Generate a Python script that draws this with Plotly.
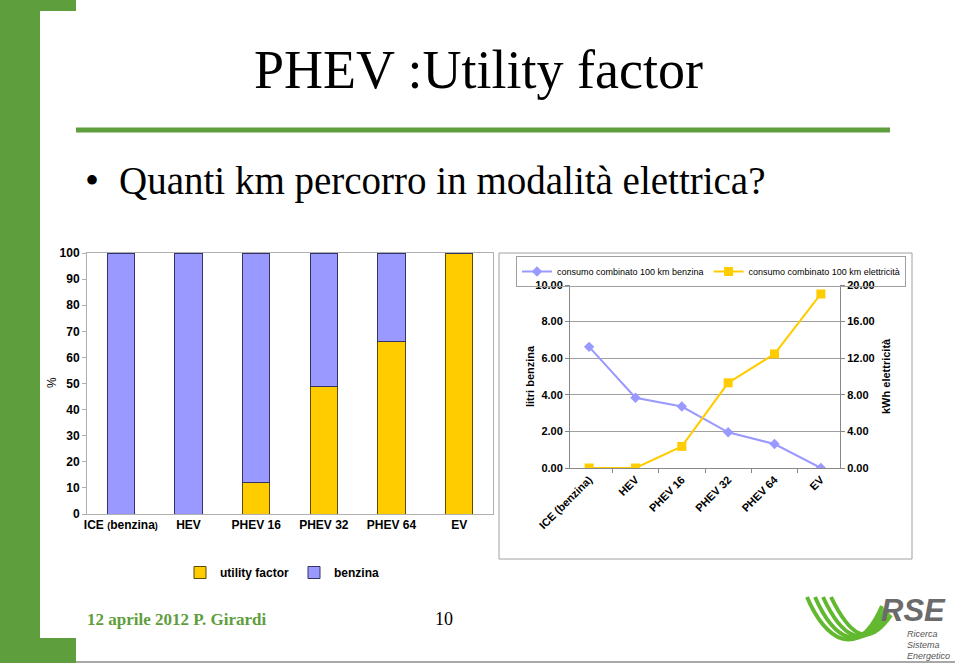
import plotly.graph_objects as go

# ---------------- data ----------------
categories = ["ICE (benzina)", "HEV", "PHEV 16", "PHEV 32", "PHEV 64", "EV"]
bar_ticktext = ["ICE <span style='font-size:9px'>(</span>benzina<span style='font-size:9px'>)</span>",
                "HEV", "PHEV 16", "PHEV 32", "PHEV 64", "EV"]
utility_factor = [0, 0, 12, 49, 66, 100]
benzina_pct = [100, 100, 88, 51, 34, 0]
litri_benzina = [6.62, 3.84, 3.36, 1.95, 1.31, 0.00]
kwh_elettricita = [0.00, 0.00, 2.36, 9.31, 12.47, 19.02]

W, H = 960, 666
def px(x): return x / W
def py(y): return 1 - y / H

YELLOW = "#FFCC00"
BLUE = "#9999FF"
GREEN = "#5E9E3C"
SANS = "Liberation Sans, Arial, sans-serif"
SERIF = "Liberation Serif, Times New Roman, serif"

fig = go.Figure()

# stacked bars (left chart)
fig.add_trace(go.Bar(x=categories, y=utility_factor, name="utility factor",
                     marker=dict(color=YELLOW, line=dict(color="#5a4a00", width=1)),
                     width=0.4, xaxis="x", yaxis="y", legend="legend"))
fig.add_trace(go.Bar(x=categories, y=benzina_pct, name="benzina",
                     marker=dict(color=BLUE, line=dict(color="#333366", width=1)),
                     width=0.4, xaxis="x", yaxis="y", legend="legend"))

# line chart (right)
fig.add_trace(go.Scatter(x=categories, y=litri_benzina, mode="lines+markers",
                         name="consumo combinato 100 km benzina",
                         line=dict(color=BLUE, width=2),
                         marker=dict(symbol="diamond", size=8, color=BLUE),
                         xaxis="x2", yaxis="y2", legend="legend2"))
fig.add_trace(go.Scatter(x=categories, y=kwh_elettricita, mode="lines+markers",
                         name="consumo combinato 100 km elettricità",
                         line=dict(color=YELLOW, width=2),
                         marker=dict(symbol="square", size=9, color=YELLOW),
                         xaxis="x2", yaxis="y3", legend="legend2"))

axis_font = dict(family=SANS, size=12, color="black", weight="bold")

fig.update_layout(
    width=W, height=H, margin=dict(l=0, r=0, t=0, b=0, autoexpand=False),
    paper_bgcolor="white", plot_bgcolor="white",
    barmode="stack", showlegend=True,
    xaxis=dict(domain=[px(87), px(493)], anchor="y", type="category", automargin=False,
               tickvals=categories, ticktext=bar_ticktext,
               tickfont=axis_font, showline=True, linecolor="#b0b0b0",
               mirror=True, ticks="", showgrid=False),
    yaxis=dict(domain=[py(514), py(253)], anchor="x", range=[0, 100], dtick=10, automargin=False,
               tickfont=axis_font, showline=True, linecolor="#b0b0b0",
               mirror=True, ticks="outside", ticklen=4, tickcolor="#b0b0b0",
               showgrid=False, zeroline=False),
    xaxis2=dict(domain=[px(570), px(840)], anchor="y2", type="category", automargin=False,
                tickangle=-45, tickson="boundaries", ticks="outside", ticklen=4,
                tickcolor="#888888",
                tickfont=dict(family=SANS, size=11, color="black", weight="bold"),
                showline=True, linecolor="#888888", showgrid=False),
    yaxis2=dict(domain=[py(468), py(285)], anchor="x2", range=[0, 10], dtick=2, automargin=False,
                tickformat=".2f", tickfont=dict(family=SANS, size=11, color="black", weight="bold"),
                showline=True, linecolor="#888888", ticks="outside", ticklen=4,
                tickcolor="#888888", showgrid=True, gridcolor="#a0a0a0",
                zeroline=False),
    yaxis3=dict(overlaying="y2", side="right", anchor="x2", range=[0, 20], dtick=4, automargin=False,
                tickformat=".2f", tickfont=dict(family=SANS, size=11, color="black", weight="bold"),
                showline=True, linecolor="#888888", ticks="outside", ticklen=4,
                tickcolor="#888888", showgrid=False, zeroline=False),
    legend=dict(orientation="h", x=px(180), y=py(558), xanchor="left", yanchor="top",
                font=dict(family=SANS, size=12, color="black", weight="bold"),
                itemwidth=30, traceorder="normal", bgcolor="rgba(0,0,0,0)"),
    legend2=dict(orientation="h", x=px(516), y=py(256), xanchor="left", yanchor="top",
                 font=dict(family=SANS, size=9, color="black"),
                 bordercolor="#a0a0a0", borderwidth=1, itemwidth=30,
                 bgcolor="rgba(255,255,255,0)", tracegroupgap=0),
)

shapes = []
# green slide decoration
shapes.append(dict(type="rect", xref="paper", yref="paper", x0=px(0), x1=px(40), y0=py(663), y1=py(0),
                   fillcolor=GREEN, line=dict(width=0), layer="below"))
shapes.append(dict(type="rect", xref="paper", yref="paper", x0=px(0), x1=px(76), y0=py(11), y1=py(0),
                   fillcolor=GREEN, line=dict(width=0), layer="below"))
shapes.append(dict(type="rect", xref="paper", yref="paper", x0=px(0), x1=px(76), y0=py(663), y1=py(638),
                   fillcolor=GREEN, line=dict(width=0), layer="below"))
# title underline
shapes.append(dict(type="line", xref="paper", yref="paper", x0=px(76), x1=px(890), y0=py(130), y1=py(130),
                   line=dict(color=GREEN, width=5)))
# bottom gray line
shapes.append(dict(type="line", xref="paper", yref="paper", x0=px(76), x1=px(955), y0=py(662), y1=py(662),
                   line=dict(color="#a8a8a8", width=2)))
# right chart frame
shapes.append(dict(type="rect", xref="paper", yref="paper", x0=px(499), x1=px(912), y0=py(559), y1=py(253),
                   line=dict(color="#a0a0a0", width=1), fillcolor="rgba(0,0,0,0)"))
# RSE logo arcs
for i in range(4):
    sx = 807 + 8 * i
    ex = 882 + 3 * i
    ey = 606 + 3 * i
    path = (f"M {px(sx)},{py(597)} C {px(825 + 8*i)},{py(640 - 2*i)} "
            f"{px(858 + 3*i)},{py(662 - 4*i)} {px(ex)},{py(ey)}")
    shapes.append(dict(type="path", xref="paper", yref="paper", path=path,
                       line=dict(color="#62B82F", width=4)))
fig.update_layout(shapes=shapes)

def A(text, x, y, size, family=SANS, color="black", xanchor="center", yanchor="middle", angle=0, weight="normal"):
    return dict(text=text, x=px(x), y=py(y), xref="paper", yref="paper", showarrow=False,
                xanchor=xanchor, yanchor=yanchor, textangle=angle,
                font=dict(family=family, size=size, color=color, weight=weight))

ann = [
    A("PHEV :Utility factor", 478, 70, 54, SERIF),
    A("•", 92, 180, 40, SERIF),
    A("Quanti km percorro in modalità elettrica?", 117, 181, 39, SERIF, xanchor="left"),
    A("%", 52, 383, 12, angle=-90),
    A("litri benzina", 530, 376, 11, angle=-90, weight="bold"),
    A("kWh elettricità", 886, 376, 11, angle=-90, weight="bold"),
    A("12 aprile 2012 P. Girardi", 85, 619, 17, SERIF, color=GREEN, xanchor="left", weight="bold"),
    A("10", 444, 619, 18, SERIF),
    A("<i>RSE</i>", 948, 610, 31, color="#6b6b6b", xanchor="right", weight="bold"),
]
for t, yy in [("Ricerca", 634), ("Sistema", 645), ("Energetico", 656)]:
    ann.append(A(f"<i>{t}</i>", 905, yy, 9, color="#555555", xanchor="left"))
fig.update_layout(annotations=ann)

fig.write_html("out.html")
